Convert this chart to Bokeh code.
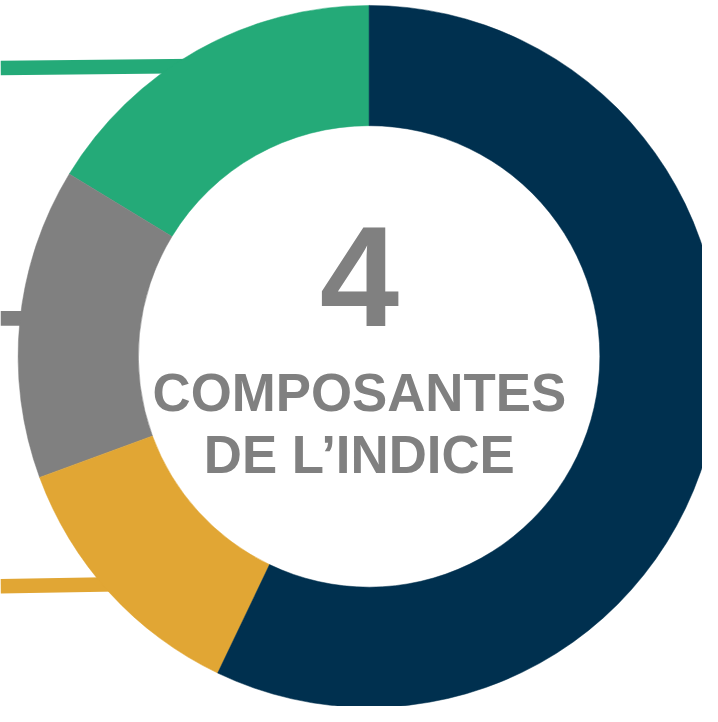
import numpy as np
from bokeh.plotting import figure
from bokeh.models import Range1d, ColumnDataSource
from bokeh.core.properties import value
from bokeh.embed import file_html
from bokeh.resources import INLINE

# ---- data (counter-clockwise from 12 o'clock) ----
segments = ["Composante A", "Composante B", "Composante C", "Composante D"]
shares = [16.3, 14.3, 12.3, 57.1]
colors = ["#24AA78", "#808080", "#E1A634", "#00304F"]

# leader lines (to cropped labels on the left): image-y at left / right end
leader_colors = ["#24AA78", "#808080", "#E1A634"]
leader_x0 = [0, 0, 0]
leader_x1 = [200, 40, 120]
leader_y0 = [69, 325, 599]
leader_y1 = [67, 325, 597]

center_big = "4"
center_lines = ["COMPOSANTES", "DE L\u2019INDICE"]

# ---- geometry (reference image pixel space, y flipped) ----
W, H = 702, 706
IMG_W, IMG_H = 718, 722
S = W / IMG_W
cx, cy = 377, IMG_H - 364
R_out, R_in = 359, 236

p = figure(width=W, height=H, output_backend="svg", toolbar_location=None,
           x_range=Range1d(0, IMG_W), y_range=Range1d(0, IMG_H),
           min_border=0, outline_line_color=None)
p.axis.visible = False
p.grid.visible = False
p.background_fill_color = "white"
p.border_fill_color = "white"

# leader lines
p.segment(x0=leader_x0, y0=[IMG_H - v for v in leader_y0],
          x1=leader_x1, y1=[IMG_H - v for v in leader_y1],
          line_color=leader_colors, line_width=15 * S, line_cap="butt")

# wedges
tot = sum(shares)
cum = np.cumsum([0] + shares) / tot * 2 * np.pi
start = np.pi / 2 + cum[:-1]
end = np.pi / 2 + cum[1:]
src = ColumnDataSource(dict(seg=segments, start=start, end=end, color=colors))
p.annular_wedge(x=cx, y=cy, inner_radius=R_in, outer_radius=R_out,
                start_angle="start", end_angle="end", direction="anticlock",
                fill_color="color", line_color="color", line_width=0.5, source=src)

# center text
tx = 367
big = 146 * S
small = 54 * S
p.text(x=[tx], y=[IMG_H - 282], text=[center_big], text_align="center",
       text_baseline="alphabetic", text_font=value("Liberation Sans"),
       text_font_style="bold", text_font_size=f"{big:.1f}px", text_color="#808080")
p.text(x=[tx, tx], y=[IMG_H - 401, IMG_H - 464], text=center_lines,
       text_align="center", text_baseline="alphabetic",
       text_font=value("Liberation Sans"), text_font_style="bold",
       text_font_size=f"{small:.1f}px", text_color="#808080")

open("out.html", "w").write(file_html(p, INLINE))
